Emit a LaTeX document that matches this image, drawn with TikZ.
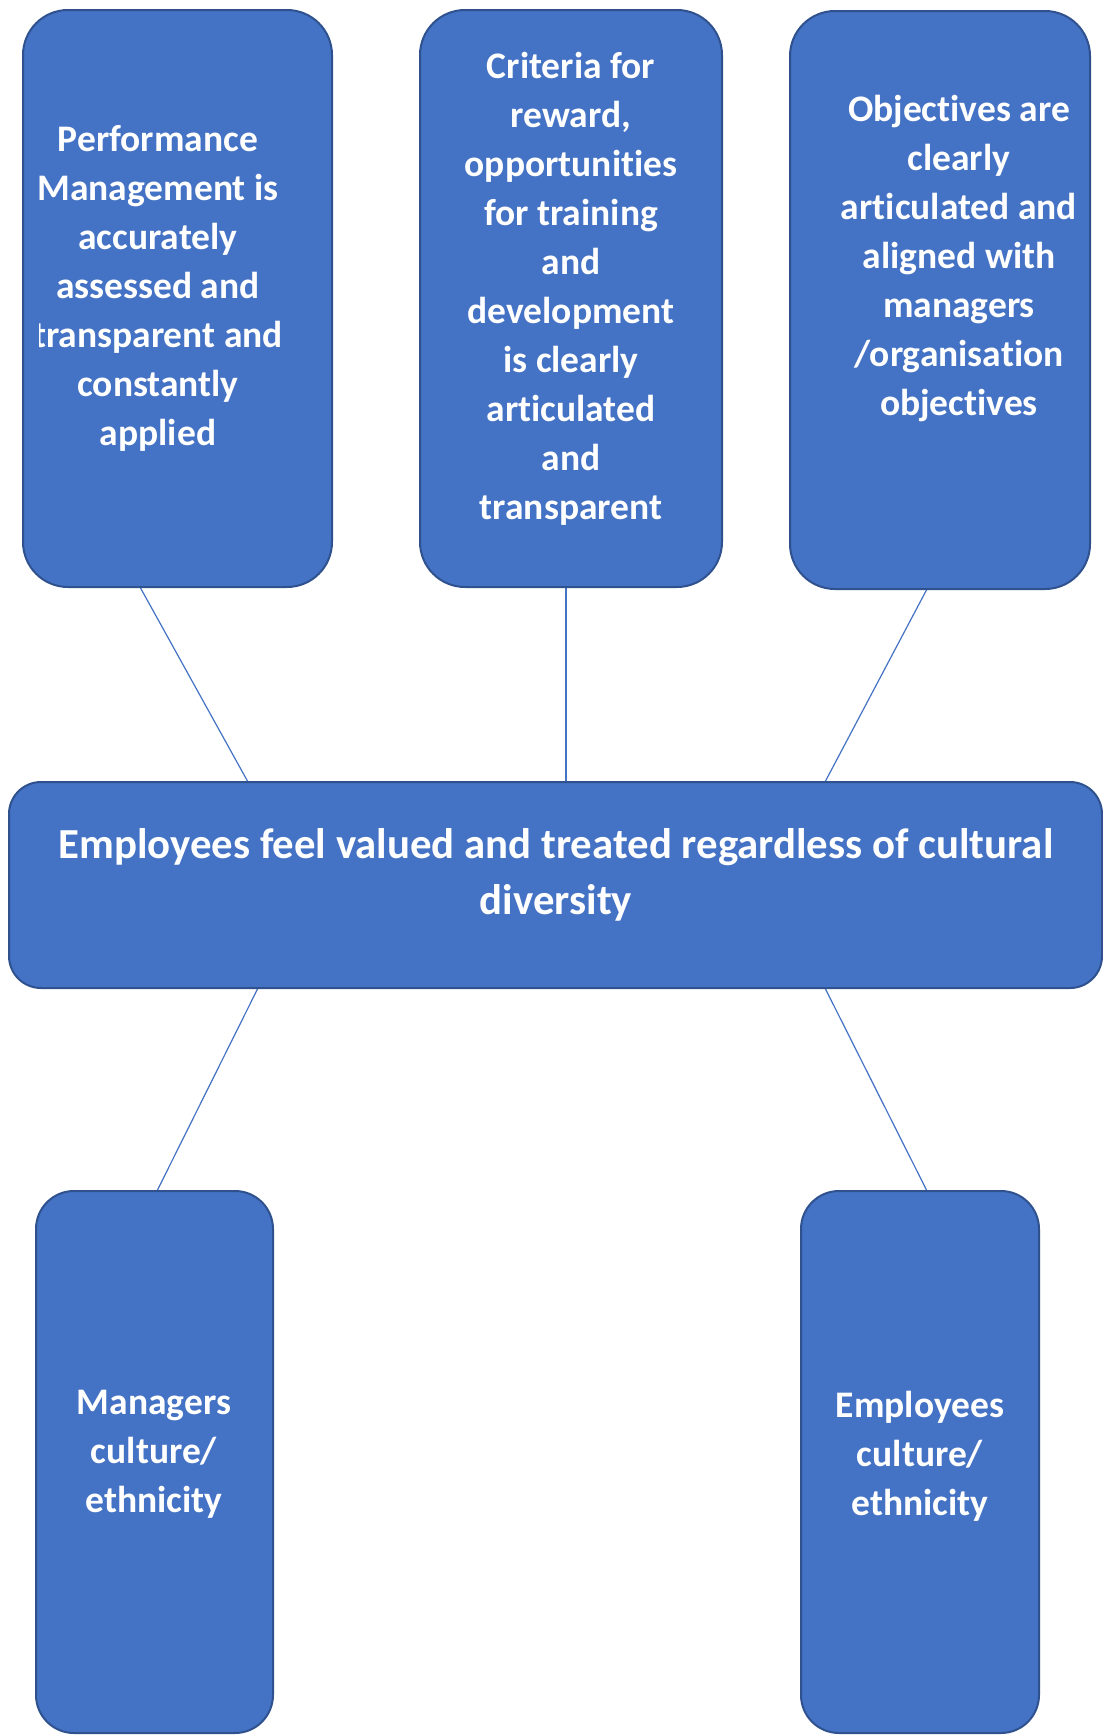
\documentclass[tikz,border=0pt]{standalone}
\usepackage{fontspec}
\setmainfont[Ligatures={NoCommon,NoContextual},RawFeature={-liga;-clig}]{Carlito}
\usetikzlibrary{calc}
\definecolor{boxfill}{HTML}{4472C4}
\definecolor{boxline}{HTML}{2F528F}
\definecolor{linkcol}{HTML}{4472C4}
\begin{document}
\begin{tikzpicture}[x=1pt,y=-1pt,
  panel/.style={draw=boxline, fill=boxfill, line width=2pt, inner sep=0pt, outer sep=0pt},
  tall/.style={panel, rounded corners=45pt},
  wide/.style={panel, rounded corners=32pt},
  low/.style={panel, rounded corners=38pt},
  label/.style={text=white, align=center, inner sep=0pt, font=\bfseries\fontsize{37.5}{49}\selectfont},
  biglabel/.style={label, font=\bfseries\fontsize{42.8}{56}\selectfont},
  link/.style={draw=linkcol, line width=1.2pt}]
\useasboundingbox (0,0) rectangle (1103,1735);
\fill[white] (0,0) rectangle (1103,1735);

% connectors (drawn first, under the boxes)
\coordinate (aS) at (140,587);
\coordinate (bS) at (566,587);
\coordinate (cS) at (927,589);
\coordinate (mA) at (248,782);
\coordinate (mB) at (566,782);
\coordinate (mC) at (825,782);
\coordinate (mL) at (258,988);
\coordinate (mR) at (825,988);
\coordinate (lN) at (157,1191);
\coordinate (rN) at (927,1191);
\draw[link] (aS) -- (mA);
\draw[link] (bS) -- (mB);
\draw[link] (cS) -- (mC);
\draw[link] (mL) -- (lN);
\draw[link] (mR) -- (rN);

% top row
\node[tall, minimum width=309pt, minimum height=577pt] (perf) at (177.5,298.5) {};
\node[tall, minimum width=302pt, minimum height=577pt] (crit) at (571,298.5) {};
\node[tall, minimum width=300pt, minimum height=578pt] (obj) at (940,300) {};

% central box
\node[wide, minimum width=1093pt, minimum height=206pt] (core) at (555.5,885) {};

% bottom row
\node[low, minimum width=237pt, minimum height=542pt] (mgr) at (154.5,1462) {};
\node[low, minimum width=238pt, minimum height=542pt] (emp) at (920,1462) {};

% texts
\begin{scope}
  \clip (39,0) rectangle (1103,1735);
  \node[label] (perfT) at (158,288) {Performance\\Management is\\accurately\\assessed and\\transparent and\\constantly\\applied};
\end{scope}
\node[label] (critT) at (571,289) {Criteria for\\reward,\\opportunities\\for training\\and\\development\\is clearly\\articulated\\and\\transparent};
\node[label] (objT) at (959,259) {Objectives are\\clearly\\articulated and\\aligned with\\managers\\/organisation\\objectives};
\node[biglabel] (coreT) at (556,875) {Employees feel valued and treated regardless of cultural\\diversity};
\node[label] (mgrT) at (154,1454) {Managers\\culture/\\ethnicity};
\node[label] (empT) at (920,1456) {Employees\\culture/\\ethnicity};
\end{tikzpicture}
\end{document}
